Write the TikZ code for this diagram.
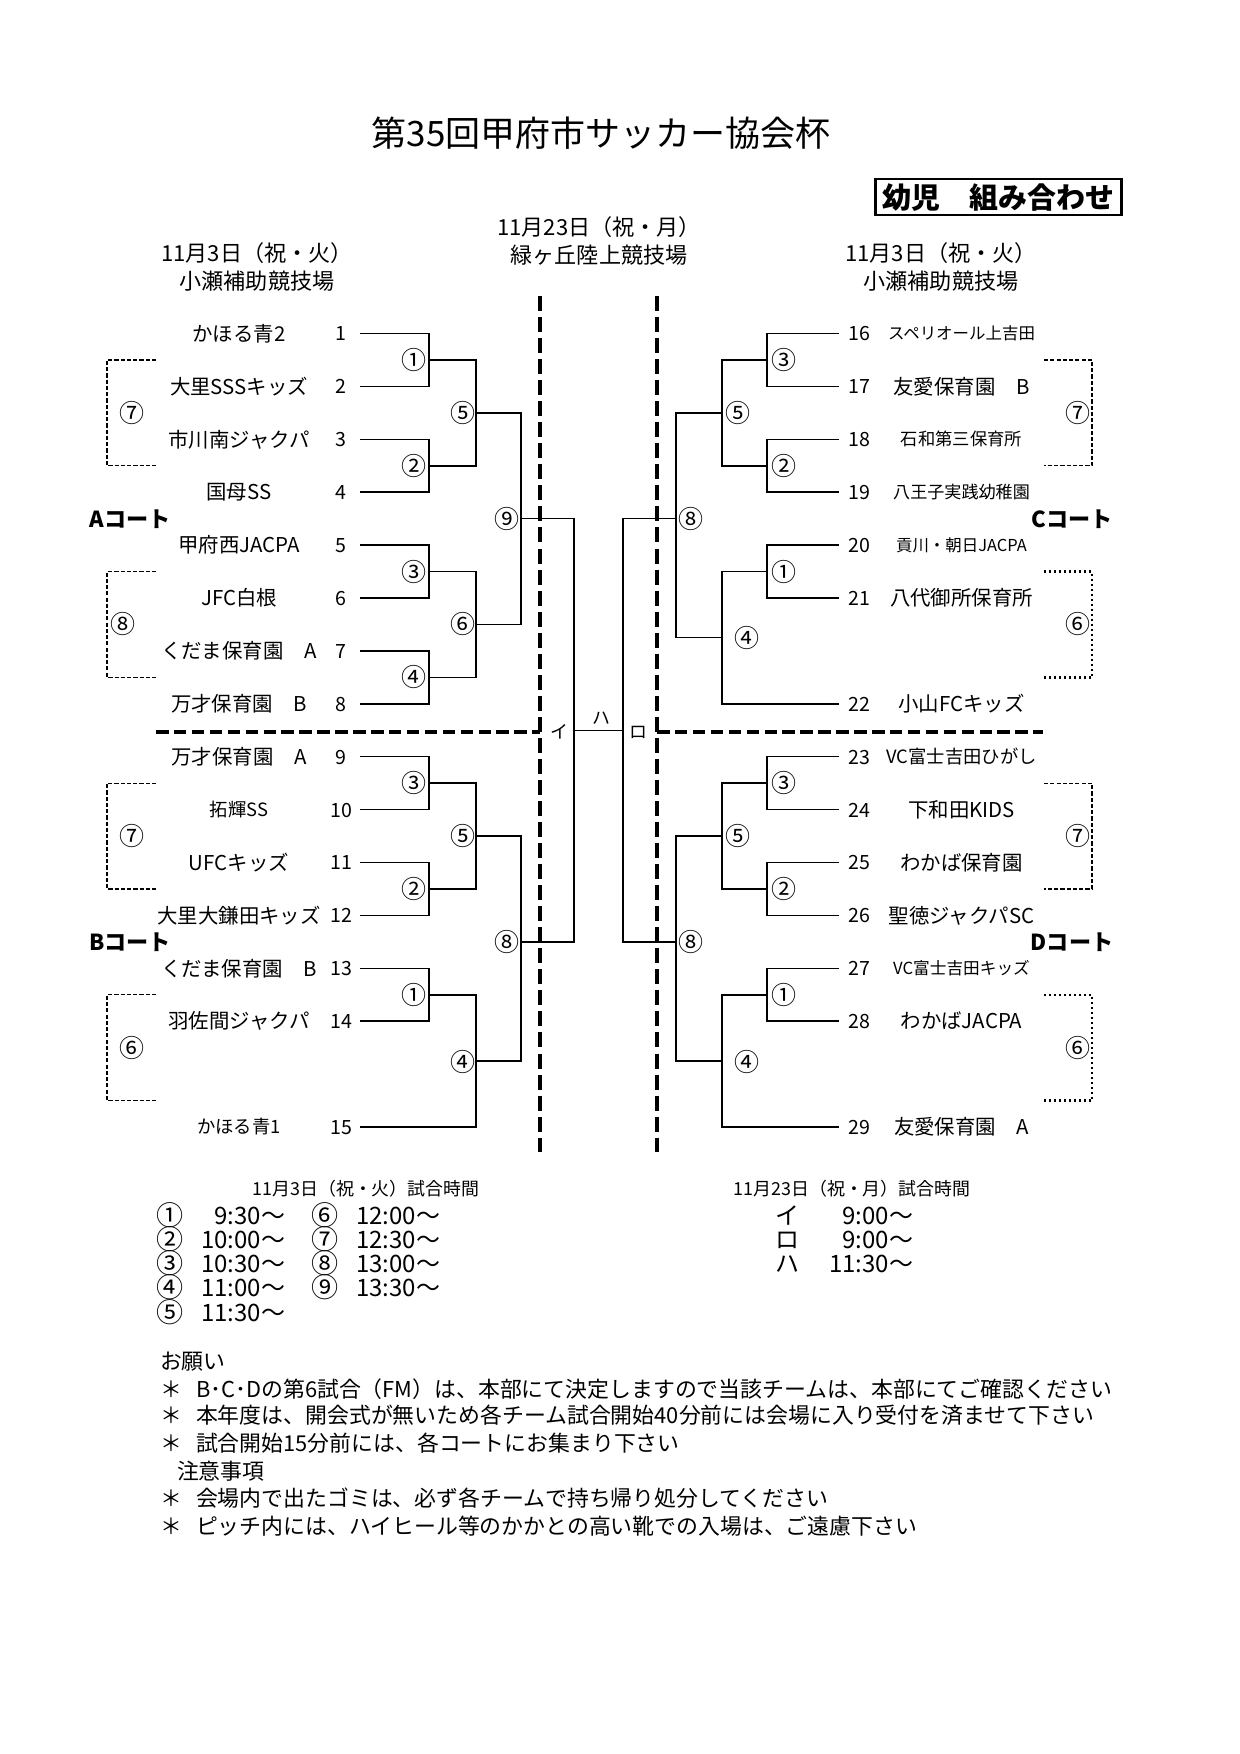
\documentclass[tikz,border=0pt]{standalone}
\usepackage{fontspec}
\setmainfont{Noto Sans CJK JP}
\newcommand\ys[1]{(333.5+52.9*#1)}
\begin{document}
\begin{tikzpicture}[x=0.48pt,y=-0.48pt,
 ft/.style={inner sep=0pt,outer sep=0pt,font=\fontsize{#1}{#1}\selectfont,text height=0.88*#1,text depth=0.12*#1},
 ftb/.style={inner sep=0pt,outer sep=0pt,font=\fontsize{#1}{#1}\selectfont\bfseries,text height=0.88*#1,text depth=0.12*#1},
 br/.style={line width=0.75pt},
 ldash/.style={line width=0.55pt,dash pattern=on 2pt off 1pt},
 rdot/.style={line width=1.1pt,dash pattern=on 1.1pt off 1.3pt},
 cdash/.style={line width=1.7pt,dash pattern=on 7.2pt off 2.9pt},
 hdash/.style={line width=1.6pt,dash pattern=on 6pt off 2.6pt},
 circ/.style={ft=12pt}
]
\fill[white] (0,0) rectangle (1240,1754);
\path[use as bounding box] (0,0) rectangle (1240,1754);

% title and box
\node[ft=16.8pt] (title) at (601,133) {第35回甲府市サッカー協会杯};
\node[draw,line width=1.2pt,minimum width=118.1pt,minimum height=17.3pt,ftb=13.9pt] (kumi) at (998.5,197) {幼児　組み合わせ};

% headings
\node[ft=10.6pt] (hL1) at (257,253) {11月3日（祝・火）};
\node[ft=10.6pt] (hL2) at (257,281) {小瀬補助競技場};
\node[ft=10.6pt] (hC1) at (599,227) {11月23日（祝・月）};
\node[ft=10.6pt] (hC2) at (599,255) {緑ヶ丘陸上競技場};
\node[ft=10.6pt] (hR1) at (941,253) {11月3日（祝・火）};
\node[ft=10.6pt] (hR2) at (941,281) {小瀬補助競技場};

% court labels
\node[ftb=10.6pt] (cA) at (130,519) {Aコート};
\node[ftb=10.6pt] (cB) at (130,942) {Bコート};
\node[ftb=10.6pt] (cC) at (1072,519) {Cコート};
\node[ftb=10.6pt] (cD) at (1072,942) {Dコート};

% dashed separators
\coordinate (dl1) at (540,296);
\coordinate (dl2) at (540,1152);
\coordinate (dr1) at (657,296);
\coordinate (dr2) at (657,1152);
\coordinate (hl1) at (156,732);
\coordinate (hl2) at (540,732);
\coordinate (hr1) at (657,732);
\coordinate (hr2) at (1043,732);
\draw[cdash] (dl1) -- (dl2);
\draw[cdash] (dr1) -- (dr2);
\draw[hdash] (hl1) -- (hl2);
\draw[hdash] (hr1) -- (hr2);

% left teams
\foreach \n/\s/\t/\f in {1/0/かほる青2/9.8,2/1/大里SSSキッズ/9.8,3/2/市川南ジャクパ/9.8,4/3/国母SS/9.8,5/4/甲府西JACPA/9.8,6/5/JFC白根/9.8,7/6/くだま保育園　A/9.8,8/7/万才保育園　B/9.8,9/8/万才保育園　A/9.8,10/9/拓輝SS/8.8,11/10/UFCキッズ/9.8,12/11/大里大鎌田キッズ/9.8,13/12/くだま保育園　B/9.8,14/13/羽佐間ジャクパ/9.8,15/15/かほる青1/8.8}{
 \node[ft=\f pt] (tl\n) at (239,{\ys{\s}}) {\t};
 \node[ft=9.4pt] (nl\n) at (341,{\ys{\s}}) {\n};
 \coordinate (pl\n) at (360,{\ys{\s}});
}
% right teams
\foreach \n/\s/\t/\f in {16/0/スペリオール上吉田/7.9,17/1/友愛保育園　B/9.8,18/2/石和第三保育所/8.3,19/3/八王子実践幼稚園/8.2,20/4/貢川・朝日JACPA/7.9,21/5/八代御所保育所/9.8,22/7/小山FCキッズ/9.8,23/8/VC富士吉田ひがし/8.8,24/9/下和田KIDS/9.8,25/10/わかば保育園/9.8,26/11/聖徳ジャクパSC/9.8,27/12/VC富士吉田キッズ/8.0,28/13/わかばJACPA/9.8,29/15/友愛保育園　A/9.8}{
 \node[ft=\f pt] (tr\n) at (961.5,{\ys{\s}}) {\t};
 \node[ft=9.4pt] (nr\n) at (859,{\ys{\s}}) {\n};
 \coordinate (pr\n) at (838.6,{\ys{\s}});
}

% junctions left
\coordinate (mA1) at (429,{\ys{0.5}});
\coordinate (mA2) at (429,{\ys{2.5}});
\coordinate (mA3) at (429,{\ys{4.5}});
\coordinate (mA4) at (429,{\ys{6.5}});
\coordinate (mA5) at (476,{\ys{1.5}});
\coordinate (mA6) at (476,{\ys{5.5}});
\coordinate (mA9) at (521,{\ys{3.5}});
\coordinate (mB3) at (429,{\ys{8.5}});
\coordinate (mB2) at (429,{\ys{10.5}});
\coordinate (mB1) at (429,{\ys{12.5}});
\coordinate (mB5) at (476,{\ys{9.5}});
\coordinate (mB4) at (476,1061);
\coordinate (mB8) at (521,942);
\coordinate (mI) at (574,730.4);
% junctions right
\coordinate (mC3) at (767,{\ys{0.5}});
\coordinate (mC2) at (767,{\ys{2.5}});
\coordinate (mC1) at (767,{\ys{4.5}});
\coordinate (mC5) at (722,{\ys{1.5}});
\coordinate (mC4) at (722,637.7);
\coordinate (mC8) at (676,{\ys{3.5}});
\coordinate (mD3) at (767,{\ys{8.5}});
\coordinate (mD2) at (767,{\ys{10.5}});
\coordinate (mD1) at (767,{\ys{12.5}});
\coordinate (mD5) at (722,{\ys{9.5}});
\coordinate (mD4) at (722,1061);
\coordinate (mD8) at (676,942);
\coordinate (mR) at (623,730.4);

% bracket lines left
\draw[br] (pl1) -| (mA1) |- (pl2);
\draw[br] (pl3) -| (mA2) |- (pl4);
\draw[br] (pl5) -| (mA3) |- (pl6);
\draw[br] (pl7) -| (mA4) |- (pl8);
\draw[br] (mA1) -| (mA5) |- (mA2);
\draw[br] (mA3) -| (mA6) |- (mA4);
\draw[br] (mA5) -| (mA9) |- (mA6);
\draw[br] (pl9) -| (mB3) |- (pl10);
\draw[br] (pl11) -| (mB2) |- (pl12);
\draw[br] (pl13) -| (mB1) |- (pl14);
\draw[br] (mB3) -| (mB5) |- (mB2);
\draw[br] (mB1) -| (mB4) |- (pl15);
\draw[br] (mB5) -| (mB8) |- (mB4);
\draw[br] (mA9) -| (mI) |- (mB8);
\draw[br] (mI) -- (mR);
% bracket lines right
\draw[br] (pr16) -| (mC3) |- (pr17);
\draw[br] (pr18) -| (mC2) |- (pr19);
\draw[br] (pr20) -| (mC1) |- (pr21);
\draw[br] (mC3) -| (mC5) |- (mC2);
\draw[br] (mC1) -| (mC4) |- (pr22);
\draw[br] (mC5) -| (mC8) |- (mC4);
\draw[br] (pr23) -| (mD3) |- (pr24);
\draw[br] (pr25) -| (mD2) |- (pr26);
\draw[br] (pr27) -| (mD1) |- (pr28);
\draw[br] (mD3) -| (mD5) |- (mD2);
\draw[br] (mD1) -| (mD4) |- (pr29);
\draw[br] (mD5) -| (mD8) |- (mD4);
\draw[br] (mC8) -| (mR) |- (mD8);

% final labels
\node[ft=8.6pt] (kI) at (559,732) {イ};
\node[ft=8.6pt] (kHa) at (601,718) {ハ};
\node[ft=8.6pt] (kRo) at (638,732) {ロ};

% match numbers left
\node[circ] (oA1) at (414,{\ys{0.5}}) {①};
\node[circ] (oA2) at (414,{\ys{2.5}}) {②};
\node[circ] (oA3) at (414,{\ys{4.5}}) {③};
\node[circ] (oA4) at (414,{\ys{6.5}}) {④};
\node[circ] (oA5) at (462.5,{\ys{1.5}}) {⑤};
\node[circ] (oA6) at (462.5,{\ys{5.5}}) {⑥};
\node[circ] (oA9) at (507,{\ys{3.5}}) {⑨};
\node[circ] (oB3) at (414,{\ys{8.5}}) {③};
\node[circ] (oB2) at (414,{\ys{10.5}}) {②};
\node[circ] (oB1) at (414,{\ys{12.5}}) {①};
\node[circ] (oB5) at (462.5,{\ys{9.5}}) {⑤};
\node[circ] (oB4) at (462.5,1062) {④};
\node[circ] (oB8) at (507,942) {⑧};
% match numbers right
\node[circ] (oC3) at (783.5,{\ys{0.5}}) {③};
\node[circ] (oC2) at (783.5,{\ys{2.5}}) {②};
\node[circ] (oC1) at (783.5,{\ys{4.5}}) {①};
\node[circ] (oC5) at (737.5,{\ys{1.5}}) {⑤};
\node[circ] (oC4) at (746.5,638) {④};
\node[circ] (oC8) at (691,{\ys{3.5}}) {⑧};
\node[circ] (oD3) at (783.5,{\ys{8.5}}) {③};
\node[circ] (oD2) at (783.5,{\ys{10.5}}) {②};
\node[circ] (oD1) at (783.5,{\ys{12.5}}) {①};
\node[circ] (oD5) at (737.5,{\ys{9.5}}) {⑤};
\node[circ] (oD4) at (746.5,1062) {④};
\node[circ] (oD8) at (691,942) {⑧};

% consolation brackets left
\draw[ldash] (156,{\ys{0.5}}) -- (107,{\ys{0.5}}) -- (107,{\ys{2.5}}) -- (156,{\ys{2.5}});
\draw[ldash] (156,{\ys{4.5}}) -- (107,{\ys{4.5}}) -- (107,{\ys{6.5}}) -- (156,{\ys{6.5}});
\draw[ldash] (156,{\ys{8.5}}) -- (107,{\ys{8.5}}) -- (107,{\ys{10.5}}) -- (156,{\ys{10.5}});
\draw[ldash] (156,{\ys{12.5}}) -- (107,{\ys{12.5}}) -- (107,{\ys{14.5}}) -- (156,{\ys{14.5}});
\node[circ] (xA7) at (132,{\ys{1.5}}) {⑦};
\node[circ] (xA8) at (123,{\ys{5.5}}) {⑧};
\node[circ] (xB7) at (132,{\ys{9.5}}) {⑦};
\node[circ] (xB6) at (132,{\ys{13.5}}) {⑥};
% consolation brackets right
\draw[ldash] (1044,{\ys{0.5}}) -- (1092,{\ys{0.5}}) -- (1092,{\ys{2.5}}) -- (1044,{\ys{2.5}});
\draw[rdot] (1044,{\ys{4.5}}) -- (1092,{\ys{4.5}}) -- (1092,{\ys{6.5}}) -- (1044,{\ys{6.5}});
\draw[ldash] (1044,{\ys{8.5}}) -- (1092,{\ys{8.5}}) -- (1092,{\ys{10.5}}) -- (1044,{\ys{10.5}});
\draw[rdot] (1044,{\ys{12.5}}) -- (1092,{\ys{12.5}}) -- (1092,{\ys{14.5}}) -- (1044,{\ys{14.5}});
\node[circ] (xC7) at (1078,{\ys{1.5}}) {⑦};
\node[circ] (xC6) at (1078,{\ys{5.5}}) {⑥};
\node[circ] (xD7) at (1078,{\ys{9.5}}) {⑦};
\node[circ] (xD6) at (1078,{\ys{13.5}}) {⑥};

% schedule
\node[ft=8.6pt] (sh1) at (366,1188.5) {11月3日（祝・火）試合時間};
\node[ft=8.6pt] (sh2) at (852,1188.5) {11月23日（祝・月）試合時間};
\foreach \i/\c/\t/\y in {1/①/9:30～/1215,2/②/10:00～/1239.5,3/③/10:30～/1263.5,4/④/11:00～/1287.5,5/⑤/11:30～/1312}{
 \node[ft=13pt] (sa\i) at (170,\y) {\c};
 \node[ft=11.5pt,anchor=east] (ta\i) at (285,\y) {\t};
}
\foreach \i/\c/\t/\y in {6/⑥/12:00～/1215,7/⑦/12:30～/1239.5,8/⑧/13:00～/1263.5,9/⑨/13:30～/1287.5}{
 \node[ft=13pt] (sa\i) at (325,\y) {\c};
 \node[ft=11.5pt,anchor=east] (ta\i) at (440,\y) {\t};
}
\foreach \i/\c/\t/\y in {1/イ/9:00～/1215,2/ロ/9:00～/1239.5,3/ハ/11:30～/1263.5}{
 \node[ft=11.5pt] (sk\i) at (787,\y) {\c};
 \node[ft=11.5pt,anchor=east] (tk\i) at (913,\y) {\t};
}

% notes
\node[ft=10.5pt,anchor=west] (n0) at (160,1361) {お願い};
\foreach \i/\y/\t in {1/1389/B･C･Dの第6試合（FM）は、本部にて決定しますので当該チームは、本部にてご確認ください,2/1415.5/本年度は、開会式が無いため各チーム試合開始40分前には会場に入り受付を済ませて下さい,3/1443.5/試合開始15分前には、各コートにお集まり下さい,4/1498.5/会場内で出たゴミは、必ず各チームで持ち帰り処分してください,5/1526/ピッチ内には、ハイヒール等のかかとの高い靴での入場は、ご遠慮下さい}{
 \node[ft=10.5pt] (as\i) at (171,\y) {＊};
 \node[ft=10.5pt,anchor=west] (nt\i) at (196,\y) {\t};
}
\node[ft=10.5pt,anchor=west] (n6) at (177,1471) {注意事項};
\end{tikzpicture}
\end{document}
